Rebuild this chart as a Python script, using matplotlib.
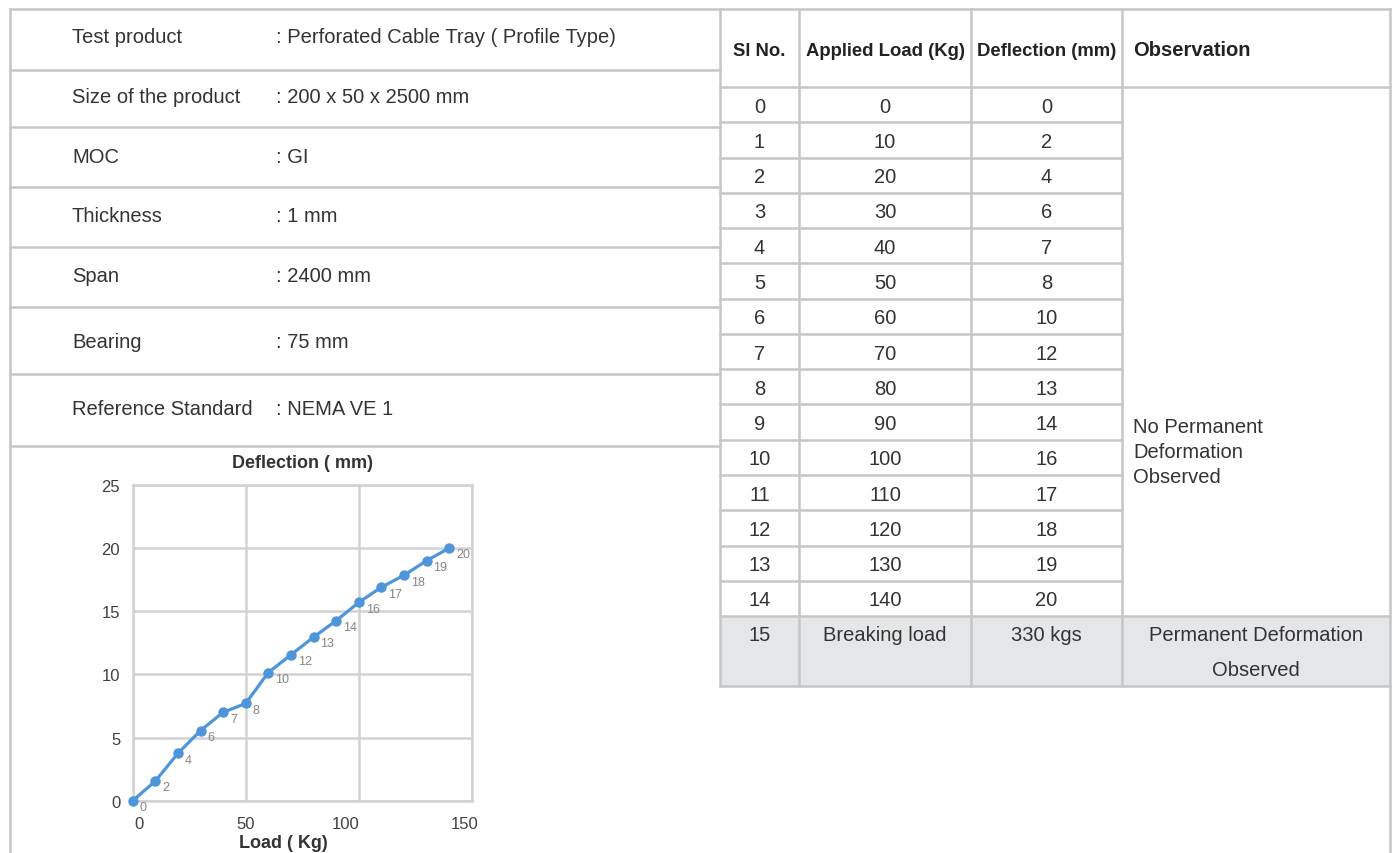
import matplotlib
matplotlib.use("Agg")
import matplotlib.pyplot as plt
import matplotlib.transforms as mtransforms

plt.rcParams['font.family'] = ['Liberation Sans', 'DejaVu Sans']

# spec table (left)
spec_labels = ["Test product", "Size of the product", "MOC", "Thickness", "Span",
               "Bearing", "Reference Standard"]
spec_values = [": Perforated Cable Tray ( Profile Type)", ": 200 x 50 x 2500 mm", ": GI",
               ": 1 mm", ": 2400 mm", ": 75 mm", ": NEMA VE 1"]

# test results table (right)
headers = ["Sl No.", "Applied Load (Kg)", "Deflection (mm)", "Observation"]
sl_no = list(range(15))
applied_load = [0, 10, 20, 30, 40, 50, 60, 70, 80, 90, 100, 110, 120, 130, 140]
deflection = [0, 2, 4, 6, 7, 8, 10, 12, 13, 14, 16, 17, 18, 19, 20]
observation = ["No Permanent", "Deformation", "Observed"]
final_row = ["15", "Breaking load", "330 kgs", "Permanent Deformation", "Observed"]

# chart values as plotted (labels use the table values)
chart_load = applied_load
chart_defl = [0, 1.55, 3.75, 5.55, 7.0, 7.7, 10.15, 11.55, 12.95, 14.25,
              15.7, 16.9, 17.85, 19.0, 20.0]
x_ticks = [0, 50, 100, 150]
y_ticks = [0, 5, 10, 15, 20, 25]

LINE = "#c5c6c8"
TXT = "#333333"
BLUE = "#4f95da"
FS = 14.5
BASE = 7  # baseline offset below the visual centre, px

W, H = 1394, 854
fig = plt.figure(figsize=(W / 100, H / 100), dpi=100)
bg = fig.add_axes([0, 0, 1, 1])
bg.set_xlim(0, W)
bg.set_ylim(H, 0)
bg.axis("off")

lw = 1.8

# ---- left table ----
row_lines = [10, 71, 128, 188, 248, 308, 375, 447]
for y in row_lines:
    bg.plot([10, 720], [y, y], color=LINE, lw=lw)
bg.plot([10, 10], [10, H], color=LINE, lw=lw)
row_y = [36, 96, 156, 215, 275, 341, 408]
for lab, val, y in zip(spec_labels, spec_values, row_y):
    bg.text(72, y + BASE, lab, fontsize=FS, color=TXT, va="baseline")
    bg.text(276, y + BASE, val, fontsize=FS, color=TXT, va="baseline")

# ---- right table ----
cols = [720, 799, 971, 1122, 1390]
top, head_bot, rh = 10, 88, 35.27
data_bot = head_bot + rh * len(sl_no)
bottom = 687

bg.fill_between([cols[0], cols[-1]], data_bot, bottom, color="#e5e6e8", lw=0)
bg.plot([720, 1390], [top, top], color=LINE, lw=lw)
bg.plot([720, 1390], [head_bot, head_bot], color=LINE, lw=lw)
for i in range(1, len(sl_no)):
    y = head_bot + i * rh
    bg.plot([cols[0], cols[3]], [y, y], color=LINE, lw=lw)
bg.plot([720, 1390], [data_bot, data_bot], color=LINE, lw=lw)
bg.plot([720, 1390], [bottom, bottom], color=LINE, lw=lw)
for x in cols[:-1]:
    bg.plot([x, x], [top, bottom], color=LINE, lw=lw)
bg.plot([cols[-1], cols[-1]], [top, H], color=LINE, lw=lw)

centers = [(cols[i] + cols[i + 1]) / 2 for i in range(3)]
for c, h in zip(centers, headers[:3]):
    bg.text(c, 49 + 6.5, h, fontsize=13.3, fontweight="bold", color="#222222",
            ha="center", va="baseline")
bg.text(1133, 49 + 7, headers[3], fontsize=14.5, fontweight="bold", color="#222222",
        va="baseline")

for i, (n, ld, d) in enumerate(zip(sl_no, applied_load, deflection)):
    y = head_bot + i * rh + rh / 2 + BASE
    for c, v in zip(centers, (n, ld, d)):
        bg.text(c, y, str(v), fontsize=FS, color=TXT, ha="center", va="baseline")

for k, line in enumerate(observation):
    bg.text(1133, 426 + 25 * k + BASE, line, fontsize=FS, color=TXT, va="baseline")

for c, v in zip(centers, final_row[:3]):
    bg.text(c, 634 + BASE, v, fontsize=FS, color=TXT, ha="center", va="baseline")
obs_c = (cols[3] + cols[4]) / 2
bg.text(obs_c, 634 + BASE, final_row[3], fontsize=FS, color=TXT, ha="center",
        va="baseline")
bg.text(obs_c, 669 + BASE, final_row[4], fontsize=FS, color=TXT, ha="center",
        va="baseline")

# ---- chart ----
ax = fig.add_axes([132.7 / W, (H - 801.7) / H, 339 / W, 315.7 / H])
ax.plot(chart_load, chart_defl, color=BLUE, lw=2.3, marker="o", ms=6.5,
        clip_on=False, zorder=3)
for x, y, lab in zip(chart_load, chart_defl, deflection):
    ax.annotate(str(lab), (x, y), xytext=(5, -4.5), textcoords="offset points",
                fontsize=9, color="#858585", ha="left", va="center")
ax.set_xlim(0, 150)
ax.set_ylim(0, 25)
ax.set_xticks(x_ticks)
ax.set_yticks(y_ticks)
ax.grid(True, color="#d2d2d2", lw=1.8)
ax.set_axisbelow(True)
for s in ax.spines.values():
    s.set_color("#d2d2d2")
    s.set_linewidth(1.8)
ax.tick_params(length=0, labelsize=12, labelcolor="#404040", pad=9)
ax.tick_params(axis="x", pad=11)

# the source chart's x labels sit a little off their gridlines
shift_px = [6, 0, -13, -7]
for lbl, dx in zip(ax.get_xticklabels(), shift_px):
    off = mtransforms.ScaledTranslation(dx / 100, 0, fig.dpi_scale_trans)
    lbl.set_transform(lbl.get_transform() + off)

ax.set_title("Deflection ( mm)", fontsize=13, fontweight="bold", color="#333333",
             pad=13)
ax.set_xlabel("Load ( Kg)", fontsize=13, fontweight="bold", color="#333333",
              va="center")
ax.xaxis.set_label_coords((283 - 132.7) / 339, -(844 - 801.7) / 315.7)

fig.savefig("out.png", dpi=100)
